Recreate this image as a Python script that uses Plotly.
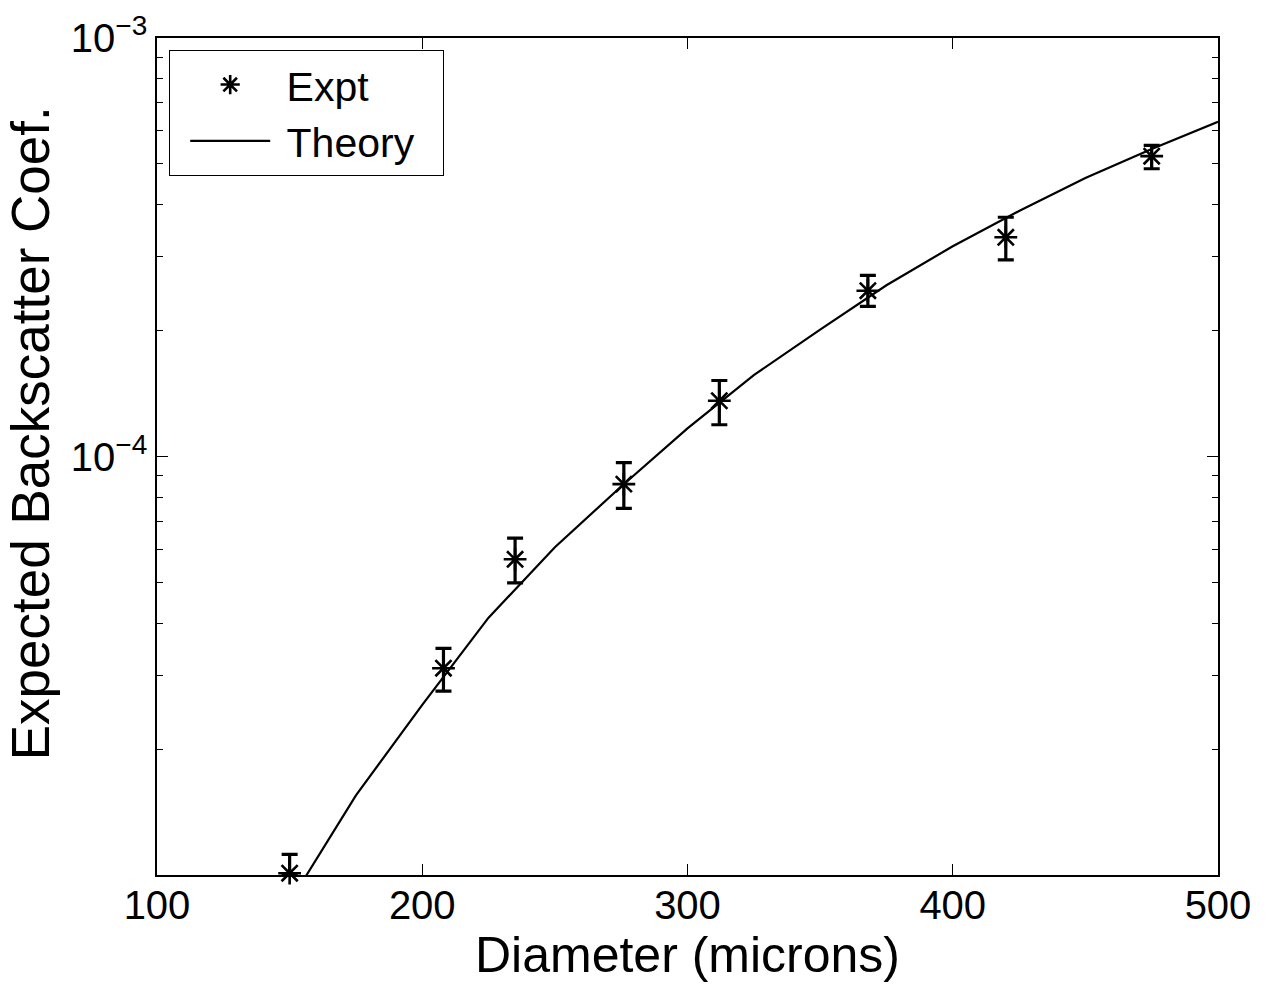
import plotly.graph_objects as go

# Expt data
diam_expt = [150, 208, 235, 276, 312, 368, 420, 475]
bsc_expt = [1.01e-5, 3.12e-5, 5.68e-5, 8.59e-5, 1.359e-4, 2.49e-4, 3.34e-4, 5.22e-4]
bsc_hi = [1.12e-5, 3.48e-5, 6.38e-5, 9.67e-5, 1.519e-4, 2.71e-4, 3.73e-4, 5.54e-4]
bsc_lo = [1.00e-5, 2.75e-5, 4.99e-5, 7.52e-5, 1.191e-4, 2.285e-4, 2.95e-4, 4.87e-4]

# Theory curve
diam_theory = [150, 175, 200, 225, 250, 275, 300, 325, 350, 375, 400, 425, 450, 475, 500]
bsc_theory = [8.6e-6, 1.55e-5, 2.55e-5, 4.12e-5, 6.07e-5, 8.48e-5, 1.167e-4, 1.565e-4,
              2.01e-4, 2.565e-4, 3.18e-4, 3.86e-4, 4.63e-4, 5.43e-4, 6.31e-4]

# Axis ticks
x_ticks = [100, 200, 300, 400, 500]
y_ticks = [1e-5, 1e-4, 1e-3]
y_ticktext = ["", "10<sup>\u22124</sup>", "10<sup>\u22123</sup>"]
y_minor = [m * 10.0 ** e for e in (-5, -4) for m in range(2, 10)]

font = "Liberation Sans, Arial, Helvetica, sans-serif"
nb = "\u00a0"

err_plus = [h - v for h, v in zip(bsc_hi, bsc_expt)]
err_minus = [v - l for v, l in zip(bsc_expt, bsc_lo)]

fig = go.Figure()
fig.add_trace(go.Scatter(
    x=diam_expt, y=bsc_expt, mode="markers", name=nb + "Expt",
    marker=dict(symbol="asterisk-open", size=19, color="black",
                line=dict(color="black", width=2.6)),
    error_y=dict(type="data", array=err_plus, arrayminus=err_minus,
                 color="black", thickness=3.2, width=8),
    cliponaxis=False,
))
fig.add_trace(go.Scatter(
    x=diam_theory, y=bsc_theory, mode="lines", name=nb + "Theory" + nb * 2,
    line=dict(color="black", width=2.2),
))

axis_common = dict(
    showline=True, linecolor="black", linewidth=1.5, mirror="ticks",
    ticks="inside", tickcolor="black", tickwidth=1.2,
    showgrid=False, zeroline=False, automargin=False,
    tickfont=dict(family=font, size=40, color="black"),
)

fig.update_xaxes(
    range=[100, 500], tickmode="array", tickvals=x_ticks,
    ticktext=[str(v) for v in x_ticks], ticklen=11, ticklabelstandoff=-6,
    title=dict(text="Diameter (microns)", font=dict(family=font, size=50, color="black"),
               standoff=0),
    **axis_common,
)
fig.update_yaxes(
    type="log", range=[-5, -3], tickmode="array", tickvals=y_ticks,
    ticktext=y_ticktext, ticklen=11, ticklabelstandoff=0,
    minor=dict(tickvals=y_minor, ticks="inside", ticklen=6, tickcolor="black", tickwidth=1.2),
    **axis_common,
)

# y-axis title as an annotation so it can sit where the original has it
fig.add_annotation(
    text="Expected Backscatter Coef.", xref="paper", yref="paper",
    x=-0.1195, y=0.528, xanchor="center", yanchor="middle", textangle=-90,
    showarrow=False, font=dict(family=font, size=53, color="black"),
)

fig.update_layout(
    width=1267, height=978,
    margin=dict(l=149, r=57, t=30, b=111),
    paper_bgcolor="white", plot_bgcolor="white",
    showlegend=True,
    legend=dict(
        x=0.0113, y=0.9854, xanchor="left", yanchor="top",
        bgcolor="white", bordercolor="black", borderwidth=1.2,
        font=dict(family=font, size=41, color="black"),
        itemwidth=80, indentation=15, tracegroupgap=0,
    ),
)

fig.write_html("out.html")
